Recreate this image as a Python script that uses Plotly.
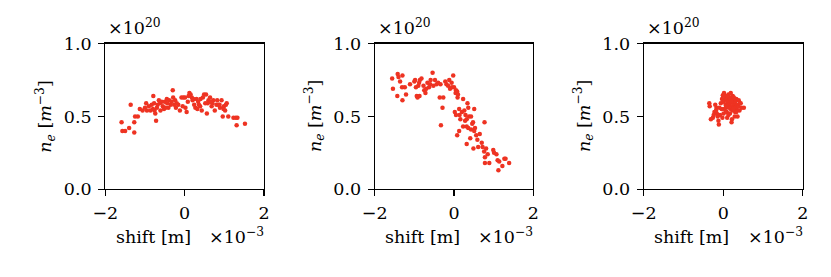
import plotly.graph_objects as go

# Panel 1 data (shift in 1e-3 m, n_e in 1e20 m^-3)
shift1 = [-1.59, -1.57, -1.50, -1.40, -1.36, -1.27, -1.27, -1.25, -1.18, -1.13, -1.06,
          -0.97, -0.95, -0.86, -0.83, -0.79, -0.77, -0.76, -0.74, -0.72, -0.68, -0.65,
          -0.61, -0.55, -0.50, -0.45, -0.41, -0.39, -0.35, -0.30, -0.29, -0.24, -0.22,
          -0.16, -0.12, -0.08, -0.03, 0.01, 0.02, 0.05, 0.12, 0.15, 0.18, 0.20, 0.24,
          0.27, 0.30, 0.34, 0.39, 0.43, 0.49, 0.54, 0.56, 0.60, 0.64, 0.68, 0.72, 0.76,
          0.82, 0.85, 0.89, 0.93, 0.96, 0.99, 1.02, 1.06, 1.10, 1.23, 1.29, 1.31, 1.33,
          1.52, -0.90, -0.70, -0.62, -0.52, -0.44, -0.33, -0.20, -0.05, 0.08, 0.22,
          0.36, 0.46, 0.58, 0.70, 0.80, 0.98, 1.04, -1.00, -0.58, -0.26, 0.10, 0.40,
          0.66, 0.88, -0.80, -0.48, 0.32, 0.52]
ne1 = [0.46, 0.40, 0.40, 0.42, 0.58, 0.46, 0.39, 0.50, 0.50, 0.55, 0.54,
       0.59, 0.54, 0.54, 0.58, 0.64, 0.59, 0.54, 0.52, 0.47, 0.58, 0.61,
       0.54, 0.57, 0.60, 0.62, 0.56, 0.61, 0.58, 0.68, 0.63, 0.61, 0.56,
       0.58, 0.54, 0.63, 0.63, 0.63, 0.56, 0.53, 0.66, 0.65, 0.63, 0.61, 0.58,
       0.56, 0.62, 0.60, 0.57, 0.54, 0.65, 0.65, 0.52, 0.61, 0.63, 0.57, 0.61, 0.54,
       0.61, 0.58, 0.56, 0.61, 0.50, 0.57, 0.54, 0.59, 0.50, 0.49, 0.49, 0.44, 0.49,
       0.45, 0.57, 0.56, 0.59, 0.55, 0.59, 0.60, 0.59, 0.57, 0.60, 0.62,
       0.58, 0.63, 0.59, 0.59, 0.58, 0.55, 0.58, 0.56, 0.60, 0.58, 0.64, 0.62,
       0.60, 0.58, 0.55, 0.56, 0.55, 0.59]

# Panel 2 data
shift2 = [-1.56, -1.54, -1.42, -1.40, -1.30, -1.36, -1.31, -1.43, -1.30, -1.21, -1.24,
          -1.11, -0.98, -0.96, -0.94, -0.92, -0.87, -0.88, -0.86, -0.82, -0.77, -0.75,
          -0.72, -0.67, -0.63, -0.59, -0.54, -0.52, -0.48, -0.44, -0.40, -0.34, -0.36,
          -0.27, -0.29, -0.33, -0.22, -0.19, -0.12, -0.10, -0.06, -0.02, 0.00, 0.05,
          0.08, 0.02, 0.05, 0.09, 0.13, 0.14, 0.16, 0.23, 0.26, 0.29, 0.32, 0.34, 0.36,
          0.38, 0.43, 0.48, 0.51, 0.23, 0.32, 0.36, 0.13, 0.08, 0.43, 0.51, 0.53, 0.65,
          0.77, 0.41, 0.32, 0.49, 0.59, 0.61, 0.70, 0.72, 0.76, 0.78, 0.81, 0.78, 0.89,
          0.99, 1.01, 1.07, 1.10, 1.14, 1.12, 1.22, 1.27, 1.30, 1.39, -1.00, -0.70,
          -0.15, 0.04, 0.20, 0.28, 0.46, 0.56, 0.85, -0.90, -0.60, -0.05, 0.10]
ne2 = [0.76, 0.69, 0.79, 0.77, 0.78, 0.74, 0.70, 0.64, 0.61, 0.65, 0.70,
       0.72, 0.75, 0.70, 0.64, 0.63, 0.64, 0.73, 0.75, 0.76, 0.71, 0.68,
       0.66, 0.73, 0.70, 0.75, 0.80, 0.71, 0.75, 0.72, 0.73, 0.72, 0.63,
       0.63, 0.56, 0.44, 0.74, 0.72, 0.75, 0.69, 0.73, 0.78, 0.70, 0.68,
       0.67, 0.53, 0.51, 0.63, 0.55, 0.51, 0.48, 0.62, 0.54, 0.51, 0.48, 0.59, 0.56,
       0.50, 0.50, 0.46, 0.55, 0.43, 0.43, 0.42, 0.40, 0.37, 0.41, 0.40, 0.42, 0.38,
       0.46, 0.35, 0.31, 0.28, 0.34, 0.29, 0.32, 0.29, 0.26, 0.22, 0.28, 0.18, 0.18,
       0.27, 0.25, 0.24, 0.20, 0.19, 0.13, 0.16, 0.21, 0.21, 0.18, 0.74, 0.69,
       0.71, 0.66, 0.53, 0.47, 0.45, 0.37, 0.24, 0.71, 0.72, 0.70, 0.65]

# Panel 3 data
shift3 = [-0.35, -0.34, -0.31, -0.26, -0.22, -0.17, -0.16, -0.11, -0.12, -0.08, -0.06,
          -0.03, -0.01, 0.02, 0.05, 0.07, 0.09, 0.10, 0.13, 0.15, 0.17, 0.19, 0.21,
          0.24, 0.26, 0.28, 0.30, 0.33, 0.34, 0.36, 0.39, 0.41, 0.44, 0.46, 0.52,
          0.29, 0.22, 0.00, 0.04, 0.08, 0.12, 0.16, 0.20, 0.24, 0.28, 0.32, 0.06,
          0.10, 0.14, 0.18, 0.22, 0.26, 0.30, 0.03, 0.11, 0.19, 0.27, 0.35, -0.04,
          -0.10, -0.20, 0.01, 0.15, 0.23, 0.31, 0.38, -0.14, -0.02, 0.09, 0.17, 0.25,
          0.07, 0.13, 0.21, -0.24, -0.18, 0.42, 0.33]
ne3 = [0.59, 0.57, 0.48, 0.49, 0.53, 0.56, 0.52, 0.445, 0.47, 0.51, 0.59,
       0.62, 0.645, 0.66, 0.62, 0.56, 0.53, 0.49, 0.65, 0.63, 0.59, 0.55, 0.46,
       0.64, 0.61, 0.57, 0.53, 0.62, 0.55, 0.50, 0.61, 0.54, 0.59, 0.56, 0.56,
       0.50, 0.48, 0.60, 0.64, 0.62, 0.60, 0.61, 0.63, 0.62, 0.60, 0.58, 0.58,
       0.60, 0.58, 0.62, 0.57, 0.59, 0.60, 0.55, 0.64, 0.66, 0.63, 0.58, 0.55,
       0.56, 0.58, 0.52, 0.56, 0.54, 0.56, 0.57, 0.50, 0.49, 0.57, 0.52, 0.55,
       0.53, 0.51, 0.60, 0.51, 0.54, 0.59, 0.53]

x_ticks = [-2, 0, 2]
x_ticklabels = ["\u22122", "0", "2"]
y_ticks = [0.0, 0.5, 1.0]
y_ticklabels = ["0.0", "0.5", "1.0"]

W, H = 831, 277
RED = "#ee3322"
FONT = "DejaVu Serif, Liberation Serif, serif"
FS = 17.5
panels = [(105.3, 264.0), (374.7, 533.3), (643.7, 802.7)]
top, bot = 43.5, 189.3

fig = go.Figure()
data = [(shift1, ne1), (shift2, ne2), (shift3, ne3)]
layout = dict(width=W, height=H, margin=dict(l=0, r=0, t=0, b=0, pad=0), autosize=False,
              paper_bgcolor="white", plot_bgcolor="white", showlegend=False,
              font=dict(family=FONT, size=FS, color="black"))
annotations = []
for i, ((xs, ys), (x0, x1)) in enumerate(zip(data, panels)):
    n = "" if i == 0 else str(i + 1)
    fig.add_trace(go.Scatter(x=xs, y=ys, mode="markers", xaxis="x" + n, yaxis="y" + n,
                             marker=dict(size=4.5, color=RED, line=dict(width=0)),
                             cliponaxis=True, hoverinfo="skip"))
    layout["xaxis" + n] = dict(domain=[x0 / W, x1 / W], range=[-2, 2], anchor="y" + n,
                               tickvals=x_ticks, ticktext=x_ticklabels, ticks="outside",
                               ticklen=6, tickwidth=1.1, tickcolor="black",
                               showgrid=False, zeroline=False, showline=True,
                               linecolor="black", linewidth=1.1, mirror=True,
                               automargin=False, ticklabelstandoff=2,
                               tickfont=dict(size=FS, family=FONT))
    layout["yaxis" + n] = dict(domain=[1 - bot / H, 1 - top / H], range=[0, 1], anchor="x" + n,
                               tickvals=y_ticks, ticktext=y_ticklabels, ticks="outside",
                               ticklen=6, tickwidth=1.1, tickcolor="black",
                               showgrid=False, zeroline=False, showline=True,
                               linecolor="black", linewidth=1.1, mirror=True,
                               automargin=False, ticklabelstandoff=3,
                               tickfont=dict(size=FS, family=FONT))
    annotations.append(dict(x=(x0 + 1) / W, y=1 - 40 / H, xref="paper", yref="paper",
                            xanchor="left", yanchor="bottom", showarrow=False,
                            text="\u00d710<sup>20</sup>", font=dict(size=FS, family=FONT)))
    annotations.append(dict(x=(x0 - 60) / W, y=1 - (top + bot) / 2 / H, xref="paper", yref="paper",
                            xanchor="center", yanchor="middle", showarrow=False, textangle=-90,
                            text="<i>n</i><sub><i>e</i></sub> [<i>m</i><sup>\u22123</sup>]",
                            font=dict(size=FS, family=FONT)))
    annotations.append(dict(x=(x0 + 48) / W, y=1 - 237 / H, xref="paper", yref="paper",
                            xanchor="center", yanchor="middle", showarrow=False,
                            text="shift [m]", font=dict(size=FS, family=FONT)))
    annotations.append(dict(x=(x1 + 2) / W, y=1 - 236 / H, xref="paper", yref="paper",
                            xanchor="right", yanchor="middle", showarrow=False,
                            text="\u00d710<sup>\u22123</sup>", font=dict(size=FS, family=FONT)))
layout["annotations"] = annotations
fig.update_layout(**layout)
fig.write_html("out.html", config={"displayModeBar": False, "staticPlot": True},
               post_script="document.body.style.margin='0';document.body.style.overflow='hidden';")
